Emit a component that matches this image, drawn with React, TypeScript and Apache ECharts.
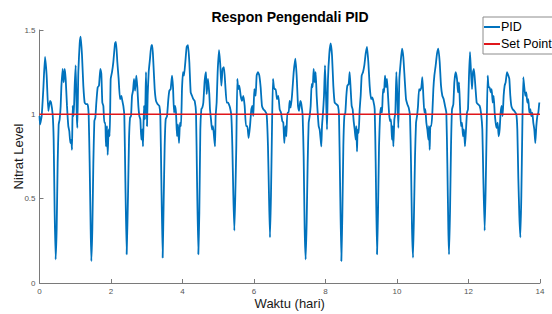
import React, { useEffect, useRef } from "react";
import * as echarts from "echarts";

// Time in days (x) for the PID response
const pidTime: number[] = [
  0.0, 0.014, 0.061, 0.107, 0.154, 0.2, 0.247, 0.294, 0.322, 0.368, 0.396, 0.424, 0.452, 0.48, 0.508, 0.536, 0.564, 0.592, 0.611, 0.648, 0.676, 0.704, 0.732, 0.769, 0.806, 0.834, 0.862, 0.89, 0.909, 0.928, 0.956, 0.984,
  1.012, 1.04, 1.058, 1.086, 1.124, 1.151, 1.189, 1.226, 1.263, 1.301, 1.347, 1.375, 1.403, 1.431, 1.45, 1.478, 1.506, 1.534, 1.562, 1.59, 1.627, 1.664, 1.702, 1.73, 1.757, 1.786, 1.813, 1.841, 1.86, 1.888, 1.907, 1.935, 1.963, 1.991,
  2.028, 2.065, 2.112, 2.14, 2.177, 2.214, 2.252, 2.289, 2.299, 2.345, 2.373, 2.401, 2.438, 2.476, 2.504, 2.532, 2.56, 2.588, 2.616, 2.644, 2.672, 2.709, 2.737, 2.765, 2.793, 2.821, 2.849, 2.877, 2.895, 2.923, 2.951, 2.979,
  3.007, 3.026, 3.054, 3.091, 3.128, 3.156, 3.184, 3.222, 3.259, 3.306, 3.352, 3.38, 3.408, 3.445, 3.473, 3.501, 3.529, 3.567, 3.604, 3.632, 3.669, 3.707, 3.735, 3.763, 3.791, 3.818, 3.846, 3.874, 3.902, 3.93, 3.958, 3.986,
  4.014, 4.042, 4.079, 4.117, 4.154, 4.191, 4.229, 4.266, 4.303, 4.341, 4.378, 4.406, 4.443, 4.471, 4.499, 4.527, 4.555, 4.583, 4.62, 4.658, 4.676, 4.713, 4.75, 4.769, 4.797, 4.825, 4.853, 4.881, 4.909, 4.927, 4.955, 4.983,
  5.021, 5.058, 5.086, 5.123, 5.16, 5.198, 5.235, 5.272, 5.328, 5.366, 5.394, 5.422, 5.45, 5.477, 5.505, 5.533, 5.561, 5.589, 5.627, 5.664, 5.701, 5.739, 5.776, 5.813, 5.85, 5.888, 5.925, 5.953, 5.981,
  6.009, 6.046, 6.074, 6.111, 6.149, 6.186, 6.223, 6.261, 6.307, 6.354, 6.391, 6.419, 6.447, 6.475, 6.503, 6.531, 6.568, 6.606, 6.643, 6.68, 6.718, 6.755, 6.792, 6.82, 6.848, 6.876, 6.904, 6.932, 6.969, 6.997,
  7.026, 7.063, 7.11, 7.156, 7.193, 7.231, 7.259, 7.296, 7.324, 7.361, 7.389, 7.417, 7.445, 7.473, 7.501, 7.529, 7.557, 7.585, 7.613, 7.641, 7.669, 7.697, 7.725, 7.753, 7.781, 7.809, 7.837, 7.865, 7.883, 7.902, 7.93, 7.958, 7.986,
  8.014, 8.042, 8.07, 8.107, 8.144, 8.182, 8.219, 8.256, 8.303, 8.35, 8.378, 8.406, 8.443, 8.471, 8.499, 8.527, 8.555, 8.583, 8.611, 8.648, 8.676, 8.704, 8.732, 8.76, 8.788, 8.816, 8.844, 8.863, 8.881, 8.9, 8.928, 8.956, 8.984,
  9.012, 9.049, 9.086, 9.124, 9.161, 9.198, 9.235, 9.273, 9.301, 9.338, 9.376, 9.404, 9.441, 9.469, 9.497, 9.525, 9.553, 9.581, 9.609, 9.637, 9.665, 9.693, 9.721, 9.749, 9.777, 9.804, 9.832, 9.86, 9.879, 9.898, 9.926, 9.954, 9.982,
  10.01, 10.038, 10.066, 10.103, 10.14, 10.177, 10.215, 10.252, 10.289, 10.327, 10.364, 10.392, 10.42, 10.448, 10.476, 10.504, 10.532, 10.56, 10.588, 10.616, 10.644, 10.681, 10.709, 10.737, 10.765, 10.793, 10.821, 10.849, 10.877, 10.895, 10.914, 10.933, 10.961, 10.989,
  11.017, 11.045, 11.082, 11.119, 11.157, 11.194, 11.231, 11.268, 11.306, 11.343, 11.38, 11.408, 11.436, 11.455, 11.483, 11.511, 11.539, 11.576, 11.604, 11.641, 11.678, 11.706, 11.734, 11.762, 11.79, 11.818, 11.846, 11.874, 11.902, 11.93, 11.958, 11.986,
  12.014, 12.042, 12.07, 12.098, 12.126, 12.153, 12.191, 12.228, 12.265, 12.312, 12.349, 12.387, 12.415, 12.452, 12.48, 12.508, 12.536, 12.564, 12.592, 12.62, 12.648, 12.676, 12.704, 12.732, 12.76, 12.788, 12.816, 12.843, 12.871, 12.899, 12.927, 12.955, 12.983,
  13.011, 13.039, 13.077, 13.114, 13.142, 13.17, 13.198, 13.235, 13.282, 13.338, 13.366, 13.394, 13.422, 13.45, 13.478, 13.505, 13.533, 13.561, 13.589, 13.617, 13.645, 13.673, 13.701, 13.729, 13.757, 13.785, 13.813, 13.841, 13.869, 13.897, 13.925, 13.953, 13.981,
];

// Nitrat level (y) for the PID response
const pidLevel: number[] = [
  0.99, 0.94, 0.99, 1.15, 1.34, 1.23, 1.02, 1.08, 1.07, 1.0, 0.85, 0.42, 0.14, 0.32, 0.71, 0.94, 0.97, 1.05, 1.16, 1.27, 1.19, 1.27, 1.21, 1.05, 0.93, 0.9, 0.83, 0.85, 0.79, 1.05, 0.99, 1.17,
  1.29, 1.01, 0.92, 1.25, 1.42, 1.46, 1.35, 1.17, 1.07, 1.06, 1.06, 1.0, 0.71, 0.32, 0.13, 0.32, 0.71, 0.96, 0.98, 1.07, 1.16, 1.17, 1.27, 1.24, 1.07, 1.05, 0.95, 0.95, 0.81, 0.93, 0.76, 0.91, 0.87, 1.21,
  1.25, 1.31, 1.42, 1.43, 1.31, 1.21, 1.09, 1.11, 1.1, 1.05, 0.99, 0.62, 0.17, 0.52, 0.85, 0.98, 0.99, 1.11, 1.14, 1.21, 1.14, 1.23, 1.16, 1.05, 0.99, 0.97, 0.85, 0.91, 0.81, 1.05, 0.97, 1.25,
  0.93, 1.11, 1.25, 1.33, 1.41, 1.41, 1.31, 1.15, 1.08, 1.06, 1.05, 0.99, 0.62, 0.15, 0.48, 0.81, 0.97, 0.99, 1.09, 1.14, 1.15, 1.23, 1.16, 1.01, 1.05, 1.01, 0.87, 0.94, 0.83, 0.95, 0.93, 1.15,
  1.25, 1.23, 1.31, 1.4, 1.41, 1.31, 1.13, 1.11, 1.09, 1.08, 1.01, 0.62, 0.17, 0.42, 0.91, 1.03, 1.04, 1.07, 1.2, 1.25, 1.12, 1.21, 1.12, 1.03, 0.97, 0.91, 0.93, 0.87, 0.81, 0.99, 1.07, 1.25,
  1.38, 1.29, 1.17, 1.27, 1.28, 1.17, 1.07, 1.07, 1.04, 0.99, 0.81, 0.52, 0.31, 0.52, 0.81, 1.21, 1.15, 1.17, 1.11, 1.08, 1.11, 1.05, 0.93, 0.93, 0.86, 0.93, 1.03, 1.05, 0.99,
  1.15, 1.11, 1.23, 1.25, 1.23, 1.16, 1.05, 1.03, 1.02, 1.0, 0.81, 0.52, 0.27, 0.52, 0.91, 1.21, 1.15, 1.15, 1.09, 1.11, 1.03, 1.01, 0.96, 0.95, 0.83, 0.93, 0.87, 1.01, 1.01, 1.08,
  1.04, 1.11, 1.25, 1.33, 1.23, 1.05, 1.02, 1.08, 1.06, 0.99, 0.75, 0.32, 0.14, 0.36, 0.71, 0.95, 0.99, 1.05, 1.18, 1.16, 1.27, 1.19, 1.25, 1.11, 1.01, 0.93, 0.91, 0.85, 0.81, 0.93, 1.01, 1.11, 1.29,
  1.11, 0.91, 1.21, 1.36, 1.42, 1.35, 1.17, 1.07, 1.06, 1.05, 0.99, 0.62, 0.13, 0.4, 0.81, 0.99, 1.01, 1.11, 1.17, 1.18, 1.25, 1.15, 1.05, 1.03, 0.96, 0.91, 0.85, 0.93, 0.78, 0.91, 0.89, 1.03, 1.11,
  1.23, 1.25, 1.29, 1.36, 1.4, 1.31, 1.17, 1.09, 1.1, 1.08, 1.03, 0.71, 0.17, 0.42, 0.81, 0.99, 1.04, 1.01, 1.15, 1.13, 1.23, 1.16, 1.21, 1.11, 1.01, 0.96, 0.97, 0.85, 0.93, 0.81, 0.97, 1.01, 1.25,
  1.11, 0.92, 1.21, 1.31, 1.39, 1.34, 1.21, 1.09, 1.06, 1.04, 0.99, 0.71, 0.32, 0.15, 0.42, 0.75, 0.95, 0.99, 1.05, 1.15, 1.14, 1.16, 1.22, 1.11, 1.01, 1.03, 0.95, 0.91, 0.85, 0.93, 0.79, 0.93, 0.93, 1.01,
  1.15, 1.23, 1.29, 1.36, 1.39, 1.31, 1.17, 1.11, 1.09, 1.05, 1.01, 0.71, 0.32, 0.17, 0.42, 0.81, 1.03, 1.06, 1.19, 1.25, 1.21, 1.13, 1.19, 1.05, 0.93, 0.95, 0.87, 0.91, 0.81, 0.91, 1.01, 1.03,
  1.23, 1.37, 1.25, 1.15, 1.25, 1.27, 1.17, 1.07, 1.06, 1.05, 1.01, 0.91, 0.62, 0.31, 0.56, 0.91, 1.23, 1.16, 1.16, 1.13, 1.15, 1.07, 1.11, 1.01, 0.95, 0.92, 0.95, 0.87, 0.91, 1.01, 1.05, 0.99, 1.11,
  1.17, 1.19, 1.25, 1.23, 1.21, 1.11, 1.05, 1.03, 1.02, 1.0, 0.91, 0.62, 0.4, 0.27, 0.52, 0.91, 1.22, 1.16, 1.11, 1.13, 1.07, 1.09, 1.01, 1.03, 0.99, 1.01, 0.95, 0.91, 0.83, 0.93, 0.99, 1.01, 1.07,
];

const setPointTime: number[] = [0, 14];
const setPointLevel: number[] = [1, 1];

const seriesNames: string[] = ["PID", "Set Point"];

const FONT = "'Liberation Sans', Arial, Helvetica, sans-serif";

export default function App() {
  const ref = useRef<HTMLDivElement>(null);

  useEffect(() => {
    if (!ref.current) return;
    const chart = echarts.init(ref.current, undefined, { renderer: "svg" });
    const pidData = pidTime.map((t, i) => [t, pidLevel[i]]);
    const spData = setPointTime.map((t, i) => [t, setPointLevel[i]]);

    chart.setOption({
      animation: false,
      backgroundColor: "#ffffff",
      textStyle: { fontFamily: FONT },
      title: {
        text: "Respon Pengendali PID",
        left: 290,
        top: 10,
        textAlign: "center",
        padding: 0,
        textStyle: { fontSize: 14, fontWeight: "bold", color: "#000", fontFamily: FONT },
      },
      legend: {
        orient: "vertical",
        left: 483,
        top: 17,
        padding: [3, 4, 3, 1],
        itemGap: 3,
        itemWidth: 16,
        itemHeight: 2,
        icon: "rect",
        borderColor: "#8c8c8c",
        borderWidth: 1,
        borderRadius: 0,
        backgroundColor: "#fff",
        textStyle: { fontSize: 12.5, color: "#000", fontFamily: FONT, padding: [0, 0, 0, -4], lineHeight: 14 },
        data: seriesNames,
      },
      grid: {
        left: 39.5,
        right: 12,
        top: 30,
        bottom: 31,
        containLabel: false,
        outerBoundsMode: "none",
      },
      xAxis: {
        type: "value",
        min: 0,
        max: 14,
        interval: 2,
        name: "Waktu (hari)",
        nameLocation: "middle",
        nameGap: 14,
        nameMoveOverlap: false,
        nameTextStyle: { fontSize: 13, color: "#1a1a1a", fontFamily: FONT },
        axisLine: { show: true, lineStyle: { color: "#7a7a7a", width: 1 } },
        axisTick: { show: true, inside: true, length: 4, lineStyle: { color: "#7a7a7a" } },
        axisLabel: { fontSize: 8, color: "#555", margin: 4, fontFamily: FONT },
        splitLine: { show: false },
      },
      yAxis: {
        type: "value",
        min: 0,
        max: 1.5,
        interval: 0.5,
        name: "Nitrat Level",
        nameLocation: "middle",
        nameGap: 15,
        nameMoveOverlap: false,
        nameTextStyle: { fontSize: 13, color: "#1a1a1a", fontFamily: FONT },
        axisLine: { show: true, lineStyle: { color: "#7a7a7a", width: 1 } },
        axisTick: { show: true, inside: true, length: 4, lineStyle: { color: "#7a7a7a" } },
        axisLabel: { fontSize: 8, color: "#555", margin: 4, fontFamily: FONT },
        splitLine: { show: false },
      },
      series: [
        {
          name: seriesNames[0],
          type: "line",
          data: pidData,
          symbol: "none",
          smooth: 0.15,
          lineStyle: { color: "#0072BD", width: 1.8 },
          itemStyle: { color: "#0072BD" },
        },
        {
          name: seriesNames[1],
          type: "line",
          data: spData,
          symbol: "none",
          lineStyle: { color: "#e0161b", width: 1.5 },
          itemStyle: { color: "#e0161b" },
        },
      ],
    });
    return () => chart.dispose();
  }, []);

  return (
    <div
      ref={ref}
      style={{ position: "fixed", left: 0, top: 0, width: 552, height: 314 }}
    />
  );
}
